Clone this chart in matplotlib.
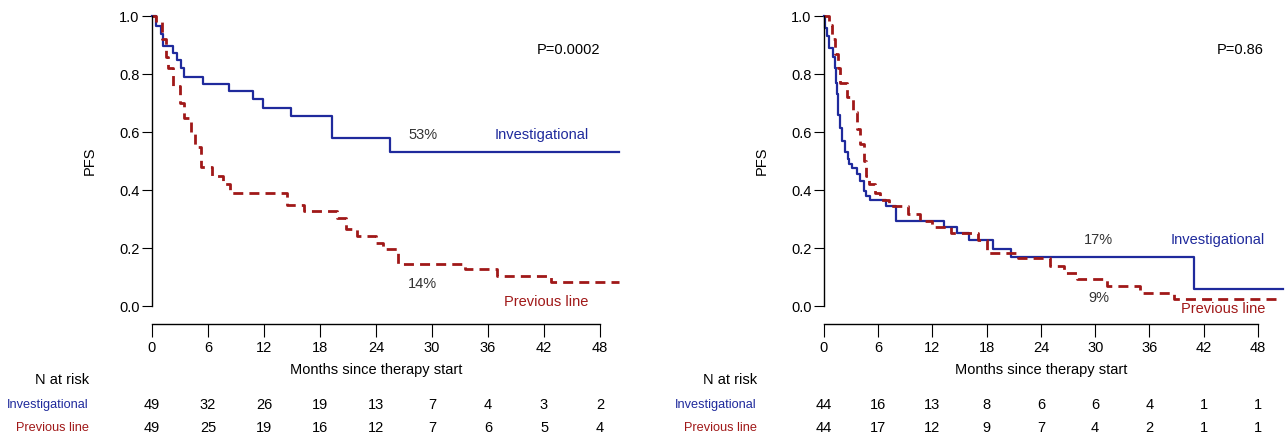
import matplotlib
matplotlib.use("Agg")
import matplotlib.pyplot as plt
from matplotlib import font_manager

# font: narrow sans if available
names = {f.name for f in font_manager.fontManager.ttflist}
narrow = "Liberation Sans Narrow" if "Liberation Sans Narrow" in names else "Liberation Sans"
plt.rcParams["font.family"] = [narrow, "DejaVu Sans"]
FS = 10.5
FS_ROW = 9.2

BLUE = "#1f2a9c"
RED = "#a01818"

# left panel (P=0.0002): step times (months) and PFS after each step
inv1_t = [0.4, 1.0, 1.2, 2.2, 2.7, 3.1, 3.4, 5.5, 8.2, 10.8, 11.9, 14.9, 19.3, 25.5]
inv1_s = [0.966, 0.937, 0.897, 0.874, 0.85, 0.82, 0.79, 0.764, 0.741, 0.713, 0.684, 0.655, 0.58, 0.532]
inv1_end = 50.0
prev1_t = [0.4, 1.1, 1.5, 1.7, 2.3, 3.0, 3.4, 4.2, 4.6, 5.2, 6.4, 7.6, 8.4, 14.5, 16.3, 19.8,
           20.8, 22.0, 24.0, 24.8, 26.4, 33.5, 37.0, 42.8]
prev1_s = [0.98, 0.92, 0.86, 0.82, 0.76, 0.70, 0.65, 0.60, 0.55, 0.48, 0.45, 0.42, 0.39, 0.35,
           0.326, 0.305, 0.264, 0.241, 0.218, 0.195, 0.144, 0.126, 0.103, 0.083]
prev1_end = 50.0

# right panel (P=0.86)
inv2_t = [0.1, 0.3, 0.5, 1.0, 1.2, 1.3, 1.4, 1.5, 1.6, 1.8, 2.0, 2.3, 2.6, 2.8, 3.1, 3.6, 4.0,
          4.4, 4.7, 5.1, 6.9, 8.0, 13.3, 14.7, 16.0, 18.7, 20.7, 40.9]
inv2_s = [0.96, 0.93, 0.89, 0.86, 0.82, 0.77, 0.73, 0.70, 0.66, 0.615, 0.57, 0.53, 0.506, 0.49,
          0.477, 0.455, 0.43, 0.397, 0.38, 0.364, 0.345, 0.293, 0.272, 0.253, 0.226, 0.195, 0.169, 0.057]
inv2_end = 50.8
prev2_t = [0.5, 0.9, 1.2, 1.6, 1.8, 2.5, 3.2, 3.6, 4.0, 4.4, 4.7, 5.0, 5.6, 6.2, 7.2, 9.3, 10.6,
           12.0, 14.0, 17.0, 18.0, 21.5, 25.0, 26.6, 28.0, 31.3, 35.0, 38.7]
prev2_s = [0.97, 0.92, 0.87, 0.82, 0.77, 0.72, 0.67, 0.61, 0.56, 0.50, 0.45, 0.42, 0.39, 0.364,
           0.345, 0.317, 0.293, 0.272, 0.253, 0.226, 0.183, 0.167, 0.138, 0.115, 0.094, 0.069,
           0.046, 0.025]
prev2_end = 50.6

months = [0, 6, 12, 18, 24, 30, 36, 42, 48]
risk_inv1 = [49, 32, 26, 19, 13, 7, 4, 3, 2]
risk_prev1 = [49, 25, 19, 16, 12, 7, 6, 5, 4]
risk_inv2 = [44, 16, 13, 8, 6, 6, 4, 1, 1]
risk_prev2 = [44, 17, 12, 9, 7, 4, 2, 1, 1]

fig = plt.figure(figsize=(12.88, 4.42), dpi=100)


def km(ax, t, s, end, **kw):
    x = [0] + t + [end]
    y = [1.0] + s + [s[-1]]
    ax.plot(x, y, drawstyle="steps-post", clip_on=False, **kw)


def panel(rect, xmax, inv, prev, pval, pval_x, lab_inv, lab_prev, risk_i, risk_p, row_x):
    ax = fig.add_axes(rect)
    km(ax, *inv, color=BLUE, lw=1.6)
    km(ax, *prev, color=RED, lw=2.0, dashes=(3.6, 2.2))
    ax.set_xlim(0, xmax)
    ax.set_ylim(0, 1.0)
    for sp in ["top", "right"]:
        ax.spines[sp].set_visible(False)
    ax.spines["bottom"].set_position(("outward", 13))
    ax.spines["bottom"].set_bounds(0, 48)
    ax.spines["left"].set_bounds(0, 1)
    ax.spines["left"].set_linewidth(1.0)
    ax.spines["bottom"].set_linewidth(1.0)
    ax.set_xticks(months)
    ax.set_yticks([0, 0.2, 0.4, 0.6, 0.8, 1.0])
    ax.set_yticklabels(["0.0", "0.2", "0.4", "0.6", "0.8", "1.0"])
    ax.tick_params(axis="x", length=9, pad=3, labelsize=FS)
    ax.tick_params(axis="y", length=7, pad=2, labelsize=FS)
    ax.set_ylabel("PFS", fontsize=FS, labelpad=16)
    ax.text(24, -0.22, "Months since therapy start", transform=ax.get_xaxis_transform(),
            ha="center", va="center", fontsize=FS)
    ax.text(pval_x, 0.883, pval, ha="right", va="center", fontsize=FS,
            family=["Liberation Sans", "DejaVu Sans"])
    for (x, y, txt, ha, c) in lab_inv + lab_prev:
        ax.text(x, y, txt, ha=ha, va="center", fontsize=FS, color=c)
    tr = ax.get_xaxis_transform()
    for m, a, b in zip(months, risk_i, risk_p):
        ax.text(m, -0.341, str(a), transform=tr, ha="center", va="center", fontsize=FS)
        ax.text(m, -0.421, str(b), transform=tr, ha="center", va="center", fontsize=FS)
    fig.text(row_x, 1 - 380 / 442, "N at risk", ha="right", va="center", fontsize=FS)
    fig.text(row_x, 1 - 405 / 442, "Investigational", ha="right", va="center", fontsize=FS_ROW, color=BLUE)
    fig.text(row_x, 1 - 428 / 442, "Previous line", ha="right", va="center", fontsize=FS_ROW, color=RED)
    return ax


panel([152 / 1288, 136 / 442, 466.7 / 1288, 290 / 442], 50,
      (inv1_t, inv1_s, inv1_end), (prev1_t, prev1_s, prev1_end),
      "P=0.0002", 48,
      [(29.0, 0.59, "53%", "center", "#333333"), (46.8, 0.59, "Investigational", "right", BLUE)],
      [(29.0, 0.076, "14%", "center", "#333333"), (46.8, 0.014, "Previous line", "right", RED)],
      risk_inv1, risk_prev1, 89 / 1288)

panel([824 / 1288, 136 / 442, 461 / 1288, 290 / 442], 51,
      (inv2_t, inv2_s, inv2_end), (prev2_t, prev2_s, prev2_end),
      "P=0.86", 48.6,
      [(30.4, 0.228, "17%", "center", "#333333"), (48.8, 0.228, "Investigational", "right", BLUE)],
      [(30.4, 0.028, "9%", "center", "#333333"), (48.8, -0.01, "Previous line", "right", RED)],
      risk_inv2, risk_prev2, 757 / 1288)

fig.savefig("out.png", dpi=100)
